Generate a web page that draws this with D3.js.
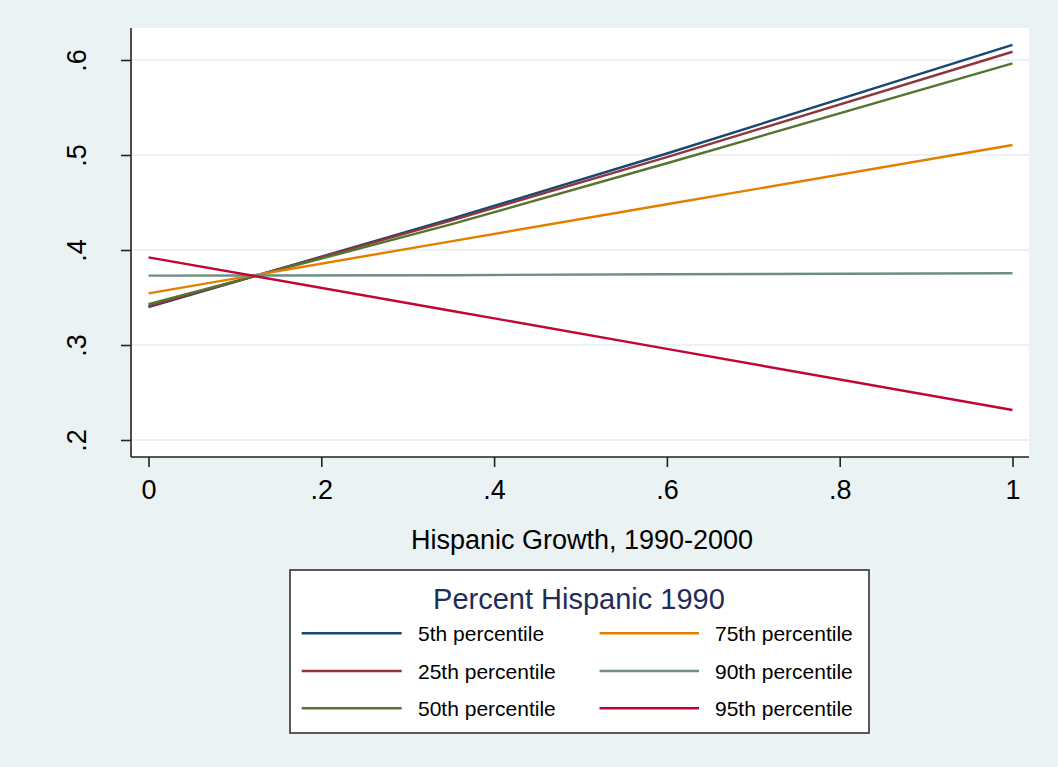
<!DOCTYPE html>
<html><head><meta charset="utf-8">
<script src="https://cdn.jsdelivr.net/npm/d3@7"></script>
<style>body{margin:0;background:#eaf2f3;} svg{display:block;font-family:"Liberation Sans",Arial,sans-serif;}</style>
</head><body>
<script>
const seriesNames = ["5th percentile","25th percentile","50th percentile","75th percentile","90th percentile","95th percentile"];
const seriesColors = ["#1a476f","#90353b","#55752f","#e37e00","#6e8e84","#c10534"];
const xValues = [0, 0.35, 0.6, 1];
const p5  = [0.340, 0.4327, 0.5016, 0.616];
const p25 = [0.341, 0.4310, 0.4977, 0.6087];
const p50 = [0.343, 0.4269, 0.4913, 0.5965];
const p75 = [0.3544, 0.4091, 0.4481, 0.5105];
const p90 = [0.373, 0.3735, 0.3745, 0.3755];
const p95 = [0.3923, 0.3361, 0.2959, 0.2316];
const seriesValues = [p5,p25,p50,p75,p90,p95];
const xTicks = [0,0.2,0.4,0.6,0.8,1];
const xTickLabels = ["0",".2",".4",".6",".8","1"];
const yTicks = [0.2,0.3,0.4,0.5,0.6];
const yTickLabels = [".2",".3",".4",".5",".6"];

const W=1058,H=767;
const svg=d3.select("body").append("svg").attr("width",W).attr("height",H);
svg.append("rect").attr("width",W).attr("height",H).attr("fill","#eaf2f3");
const pl=131, pr=1029, pt=28, pb=457;
svg.append("rect").attr("x",pl).attr("y",pt).attr("width",pr-pl).attr("height",pb-pt).attr("fill","#ffffff");
const x=d3.scaleLinear().domain([0,1]).range([148.5,1012.5]);
const y=d3.scaleLinear().domain([0.2,0.6]).range([440,60]);

// gridlines
svg.append("g").selectAll("line").data(yTicks).join("line")
  .attr("x1",pl).attr("x2",pr).attr("y1",d=>y(d)).attr("y2",d=>y(d))
  .attr("stroke","#eaf2f3").attr("stroke-width",2);

// lines
const line=d3.line().x((d,i)=>x(xValues[i])).y(d=>y(d));
seriesValues.forEach((vals,k)=>{
  svg.append("path").attr("d",line(vals)).attr("fill","none")
    .attr("stroke",seriesColors[k]).attr("stroke-width",2.4);
});

// axes
const yAxis=d3.axisLeft(y).tickValues(yTicks).tickFormat((d,i)=>yTickLabels[i]).tickSize(10);
const gy=svg.append("g").attr("transform",`translate(${pl},0)`).call(yAxis);
gy.select(".domain").attr("d",`M0,${pt}V${pb}`).attr("stroke","#222").attr("stroke-width",1.6);
gy.selectAll(".tick line").attr("stroke","#222").attr("stroke-width",1.6);
gy.selectAll(".tick text").attr("font-size",27).attr("fill","#000")
  .attr("text-anchor","middle").attr("transform","rotate(-90)")
  .attr("x",0).attr("y",-45).attr("dy",null);
const xAxis=d3.axisBottom(x).tickValues(xTicks).tickFormat((d,i)=>xTickLabels[i]).tickSize(10);
const gx=svg.append("g").attr("transform",`translate(0,${pb})`).call(xAxis);
gx.select(".domain").attr("d",`M${pl},0H${pr}`).attr("stroke","#222").attr("stroke-width",1.6);
gx.selectAll(".tick line").attr("stroke","#222").attr("stroke-width",1.6);
gx.selectAll(".tick text").attr("font-size",27).attr("fill","#000").attr("y",42).attr("dy",null);

svg.append("text").attr("x",582).attr("y",549).attr("text-anchor","middle")
  .attr("font-size",27).attr("fill","#000").text("Hispanic Growth, 1990-2000");

// legend
const lg=svg.append("g");
lg.append("rect").attr("x",290).attr("y",570).attr("width",579).attr("height",163)
  .attr("fill","#fff").attr("stroke","#333").attr("stroke-width",1.6);
lg.append("text").attr("x",579).attr("y",609).attr("text-anchor","middle")
  .attr("font-size",29).attr("fill","#1f2d5a").text("Percent Hispanic 1990");
const rowsY=[633.3,671,708.3];
const colX=[[301.7,401.7,418],[599.5,699,715]];
seriesNames.forEach((n,i)=>{
  const c=Math.floor(i/3), r=i%3;
  lg.append("line").attr("x1",colX[c][0]).attr("x2",colX[c][1]).attr("y1",rowsY[r]).attr("y2",rowsY[r])
    .attr("stroke",seriesColors[i]).attr("stroke-width",2.4);
  lg.append("text").attr("x",colX[c][2]).attr("y",rowsY[r]+8)
    .attr("font-size",21).attr("fill","#000").text(n);
});
</script>
</body></html>
